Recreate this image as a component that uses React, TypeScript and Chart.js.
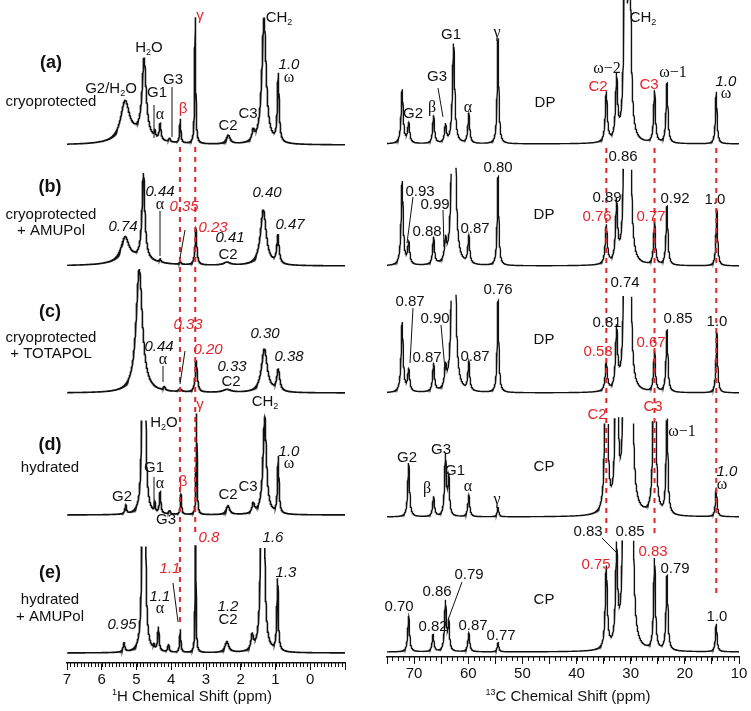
import React, { useEffect, useRef } from "react";
import { Chart, registerables } from "chart.js";
Chart.register(...registerables);

// ---------------- data (peak lists: [ppm, height, fwhm]) ----------------
type Peak = [number, number, number];

const H_TICK_LABELS = [7, 6, 5, 4, 3, 2, 1, 0];
const C_TICK_LABELS = [70, 60, 50, 40, 30, 20, 10];
const SPECTRUM_NAMES = ["(a)", "(b)", "(c)", "(d)", "(e)"];

const H_PEAKS_A: Peak[] = [
  [5.33, 38, 0.3], [5.0, 8, 1.0], [4.78, 78, 0.14], [4.47, 6, 0.04], [4.32, 16, 0.06],
  [4.05, 4, 0.05], [3.74, 24, 0.04], [3.31, 128, 0.035], [2.36, 9, 0.13], [1.64, 10, 0.08],
  [1.33, 126, 0.15], [0.92, 68, 0.06],
];
const H_PEAKS_B: Peak[] = [
  [5.33, 24, 0.28], [5.0, 6, 1.2], [4.8, 86, 0.1], [4.32, 3, 0.05], [3.74, 3, 0.05],
  [3.29, 36, 0.06], [2.4, 3, 0.25], [1.35, 56, 0.2], [0.93, 28, 0.08],
];
const H_PEAKS_C: Peak[] = [
  [4.92, 124, 0.22], [4.2, 4, 0.06], [3.75, 3, 0.1], [3.28, 32, 0.07], [2.4, 3, 0.3],
  [1.32, 44, 0.2], [0.92, 22, 0.1],
];
const H_PEAKS_D: Peak[] = [
  [5.31, 9, 0.05], [4.79, 1000, 0.04], [4.47, 9, 0.03], [4.32, 21, 0.05], [4.05, 4, 0.05],
  [3.72, 20, 0.04], [3.27, 103, 0.03], [2.37, 9, 0.12], [1.64, 10, 0.08], [1.31, 98, 0.12],
  [0.92, 57, 0.05],
];
const H_PEAKS_E: Peak[] = [
  [5.36, 9, 0.06], [4.79, 1000, 0.04], [4.5, 4, 0.04], [4.37, 24, 0.05], [4.08, 8, 0.05],
  [3.74, 23, 0.04], [3.3, 115, 0.03], [2.4, 11, 0.13], [1.67, 15, 0.08], [1.37, 550, 0.06],
  [0.94, 72, 0.05],
];

const C_PEAKS_A: Peak[] = [
  [72.2, 54, 0.45], [71.0, 20, 0.45], [66.4, 28, 0.4], [64.2, 18, 0.4], [62.7, 100, 0.5],
  [59.9, 30, 0.4], [54.5, 104, 0.35], [34.5, 50, 0.45], [32.6, 62, 0.45], [31.0, 300, 0.45],
  [30.2, 240, 0.5], [25.6, 52, 0.4], [23.3, 60, 0.4], [14.2, 52, 0.35],
];
const C_PEAKS_B: Peak[] = [
  [72.2, 84, 0.45], [71.0, 22, 0.45], [66.4, 27, 0.4], [64.2, 20, 0.4], [62.7, 400, 0.5],
  [59.9, 28, 0.4], [54.5, 89, 0.35], [34.5, 39, 0.45], [32.6, 59, 0.45], [31.0, 300, 0.45],
  [30.2, 240, 0.5], [25.6, 43, 0.4], [23.3, 59, 0.4], [14.1, 57, 0.35],
];
const C_PEAKS_C: Peak[] = [
  [72.2, 70, 0.45], [71.0, 22, 0.45], [66.4, 28, 0.4], [64.2, 20, 0.4], [62.7, 400, 0.5],
  [59.9, 29, 0.4], [54.5, 92, 0.35], [34.5, 29, 0.45], [32.6, 60, 0.45], [31.0, 300, 0.45],
  [30.2, 240, 0.5], [25.6, 41, 0.4], [23.3, 62, 0.4], [14.1, 61, 0.35],
];
const C_PEAKS_D: Peak[] = [
  [71.0, 54, 0.4], [66.4, 20, 0.4], [64.2, 61, 0.4], [63.6, 36, 0.35], [59.9, 22, 0.4],
  [54.5, 9, 0.35], [34.5, 300, 0.4], [32.6, 300, 0.4], [31.0, 400, 0.5], [30.0, 400, 0.5],
  [25.6, 300, 0.4], [23.3, 99, 0.4], [14.2, 29, 0.35],
];
const C_PEAKS_E: Peak[] = [
  [71.0, 36, 0.4], [66.5, 17, 0.4], [64.2, 50, 0.4], [63.6, 27, 0.35], [59.9, 19, 0.4],
  [54.5, 9, 0.35], [34.5, 82, 0.45], [32.6, 95, 0.45], [31.1, 400, 0.5], [29.9, 400, 0.5],
  [25.6, 91, 0.4], [23.3, 75, 0.4], [14.2, 28, 0.35],
];

const H_SPECTRA = [H_PEAKS_A, H_PEAKS_B, H_PEAKS_C, H_PEAKS_D, H_PEAKS_E];
const C_SPECTRA = [C_PEAKS_A, C_PEAKS_B, C_PEAKS_C, C_PEAKS_D, C_PEAKS_E];

// ---------------- layout ----------------
const W = 751;
const H = 711;
const LEFT_W = 375;
const RIGHT_X = 375;
const RIGHT_W = 376;
const H_AXIS_Y = 663;
const C_AXIS_Y = 657;
const H_BASELINES = [145, 266, 393, 515, 653];
const C_BASELINES = [144, 266, 393, 517, 652];
const H_CLIPS: (number | null)[] = [null, null, null, 106, 110];
const C_CLIPS: (number | null)[] = [null, 99, 100, 101, 114];

const RED = "#e3242b";
const INK = "#111";
const SANS = '"Liberation Sans", Arial, sans-serif';
const SERIF = '"Liberation Serif", "Times New Roman", serif';

type Lbl = { x: number; y: number; t: string; c?: string; f?: "s" | "i" | "b" | "g"; size?: number };
type Seg = [number, number, number, number];
type Dash = { ppm: number; y1: number; y2: number };

const LEFT_LABELS: Lbl[] = [
  { x: 51, y: 63, t: "(a)", f: "b", size: 18 },
  { x: 51, y: 102, t: "cryoprotected" },
  { x: 50, y: 187, t: "(b)", f: "b", size: 18 },
  { x: 51, y: 215, t: "cryoprotected" },
  { x: 51, y: 231, t: "+ AMUPol" },
  { x: 50, y: 312, t: "(c)", f: "b", size: 18 },
  { x: 51, y: 338, t: "cryoprotected" },
  { x: 51, y: 354, t: "+ TOTAPOL" },
  { x: 50, y: 445, t: "(d)", f: "b", size: 18 },
  { x: 50, y: 468, t: "hydrated" },
  { x: 50, y: 573, t: "(e)", f: "b", size: 18 },
  { x: 50, y: 600, t: "hydrated" },
  { x: 50, y: 617, t: "+ AMUPol" },
  // (a)
  { x: 111, y: 89, t: "G2/H_2O" },
  { x: 149, y: 48, t: "H_2O" },
  { x: 157, y: 93, t: "G1" },
  { x: 160, y: 115, t: "α", f: "g" },
  { x: 173, y: 80, t: "G3" },
  { x: 183, y: 109, t: "β", c: RED },
  { x: 200, y: 16, t: "γ", c: RED },
  { x: 228, y: 126, t: "C2" },
  { x: 248, y: 114, t: "C3" },
  { x: 279, y: 18, t: "CH_2" },
  { x: 289, y: 65, t: "1.0", f: "i" },
  { x: 289, y: 78, t: "ω", f: "g" },
  // (b)
  { x: 123, y: 227, t: "0.74", f: "i" },
  { x: 160, y: 192, t: "0.44", f: "i" },
  { x: 160, y: 205, t: "α", f: "g" },
  { x: 184, y: 207, t: "0.35", f: "i", c: RED },
  { x: 213, y: 228, t: "0.23", f: "i", c: RED },
  { x: 230, y: 238, t: "0.41", f: "i" },
  { x: 228, y: 255, t: "C2" },
  { x: 267, y: 193, t: "0.40", f: "i" },
  { x: 290, y: 225, t: "0.47", f: "i" },
  // (c)
  { x: 188, y: 325, t: "0.33", f: "i", c: RED },
  { x: 159, y: 347, t: "0.44", f: "i" },
  { x: 163, y: 360, t: "α", f: "g" },
  { x: 208, y: 350, t: "0.20", f: "i", c: RED },
  { x: 232, y: 367, t: "0.33", f: "i" },
  { x: 231, y: 382, t: "C2" },
  { x: 265, y: 334, t: "0.30", f: "i" },
  { x: 289, y: 357, t: "0.38", f: "i" },
  // (d)
  { x: 164, y: 423, t: "H_2O" },
  { x: 200, y: 405, t: "γ", c: RED },
  { x: 265, y: 402, t: "CH_2" },
  { x: 154, y: 468, t: "G1" },
  { x: 160, y: 484, t: "α", f: "g" },
  { x: 183, y: 482, t: "β", c: RED },
  { x: 122, y: 497, t: "G2" },
  { x: 166, y: 520, t: "G3" },
  { x: 228, y: 495, t: "C2" },
  { x: 248, y: 487, t: "C3" },
  { x: 289, y: 452, t: "1.0", f: "i" },
  { x: 289, y: 464, t: "ω", f: "g" },
  // (e)
  { x: 209, y: 538, t: "0.8", f: "i", c: RED },
  { x: 273, y: 538, t: "1.6", f: "i" },
  { x: 286, y: 573, t: "1.3", f: "i" },
  { x: 170, y: 569, t: "1.1", f: "i", c: RED },
  { x: 160, y: 597, t: "1.1", f: "i" },
  { x: 160, y: 609, t: "α", f: "g" },
  { x: 122, y: 625, t: "0.95", f: "i" },
  { x: 228, y: 607, t: "1.2", f: "i" },
  { x: 228, y: 620, t: "C2" },
  // axis title
  { x: 192, y: 697, t: "^1H Chemical Shift (ppm)" },
];

const LEFT_LINES: Seg[] = [
  [154, 105, 154, 138], [172, 87, 172, 137],
  [160, 211, 160, 256], [185, 230, 180, 258],
  [163, 366, 163, 382], [185, 351, 180, 384],
  [154, 477, 154, 507],
  [173, 583, 178, 622],
];

const LEFT_DASHES: Dash[] = [
  { ppm: 3.75, y1: 147, y2: 622 },
  { ppm: 3.31, y1: 147, y2: 537 },
];

const RIGHT_LABELS: Lbl[] = [
  // (a)
  { x: 413, y: 114, t: "G2" },
  { x: 432, y: 108, t: "β", f: "g" },
  { x: 437, y: 77, t: "G3" },
  { x: 451, y: 35, t: "G1" },
  { x: 468, y: 108, t: "α", f: "g" },
  { x: 497, y: 33, t: "γ", f: "g" },
  { x: 545, y: 103, t: "DP" },
  { x: 607, y: 69, t: "ω−2", f: "g" },
  { x: 598, y: 87, t: "C2", c: RED },
  { x: 643, y: 18, t: "CH_2" },
  { x: 649, y: 85, t: "C3", c: RED },
  { x: 673, y: 73, t: "ω−1", f: "g" },
  { x: 726, y: 82, t: "1.0", f: "i" },
  { x: 726, y: 94, t: "ω", f: "g" },
  // (b)
  { x: 623, y: 157, t: "0.86" },
  { x: 498, y: 168, t: "0.80" },
  { x: 420, y: 192, t: "0.93" },
  { x: 435, y: 205, t: "0.99" },
  { x: 427, y: 232, t: "0.88" },
  { x: 475, y: 229, t: "0.87" },
  { x: 544, y: 215, t: "DP" },
  { x: 607, y: 198, t: "0.89" },
  { x: 597, y: 217, t: "0.76", c: RED },
  { x: 651, y: 217, t: "0.77", c: RED },
  { x: 675, y: 199, t: "0.92" },
  { x: 715, y: 200, t: "1.0" },
  // (c)
  { x: 625, y: 283, t: "0.74" },
  { x: 498, y: 290, t: "0.76" },
  { x: 410, y: 302, t: "0.87" },
  { x: 435, y: 319, t: "0.90" },
  { x: 427, y: 358, t: "0.87" },
  { x: 475, y: 357, t: "0.87" },
  { x: 544, y: 340, t: "DP" },
  { x: 607, y: 323, t: "0.81" },
  { x: 598, y: 352, t: "0.53", c: RED },
  { x: 651, y: 343, t: "0.67", c: RED },
  { x: 678, y: 319, t: "0.85" },
  { x: 717, y: 322, t: "1.0" },
  // (d)
  { x: 597, y: 415, t: "C2", c: RED },
  { x: 653, y: 407, t: "C3", c: RED },
  { x: 682, y: 432, t: "ω−1", f: "g" },
  { x: 407, y: 458, t: "G2" },
  { x: 441, y: 450, t: "G3" },
  { x: 455, y: 471, t: "G1" },
  { x: 427, y: 489, t: "β", f: "g" },
  { x: 468, y: 487, t: "α", f: "g" },
  { x: 497, y: 500, t: "γ", f: "g" },
  { x: 544, y: 467, t: "CP" },
  { x: 727, y: 472, t: "1.0", f: "i" },
  { x: 722, y: 485, t: "ω", f: "g" },
  // (e)
  { x: 588, y: 532, t: "0.83" },
  { x: 630, y: 532, t: "0.85" },
  { x: 596, y: 565, t: "0.75", c: RED },
  { x: 653, y: 552, t: "0.83", c: RED },
  { x: 675, y: 569, t: "0.79" },
  { x: 469, y: 575, t: "0.79" },
  { x: 437, y: 592, t: "0.86" },
  { x: 399, y: 607, t: "0.70" },
  { x: 433, y: 627, t: "0.82" },
  { x: 473, y: 626, t: "0.87" },
  { x: 501, y: 636, t: "0.77" },
  { x: 544, y: 600, t: "CP" },
  { x: 717, y: 617, t: "1.0" },
  // axis title
  { x: 568, y: 697, t: "^1^3C Chemical Shift (ppm)" },
];

const RIGHT_LINES: Seg[] = [
  [438, 88, 443, 117],
  [413, 197, 407, 243], [443, 210, 444, 247],
  [413, 308, 410, 363], [441, 325, 445, 370],
  [602, 538, 617, 553], [462, 582, 448, 620],
];

const RIGHT_DASHES: Dash[] = [
  { ppm: 34.5, y1: 148, y2: 537 },
  { ppm: 25.6, y1: 148, y2: 535 },
  { ppm: 14.2, y1: 148, y2: 594 },
];

// ---------------- helpers ----------------
function lineshape(peaks: Peak[], x: number) {
  let y = 0;
  for (const [p, h, w] of peaks) {
    const d = (x - p) / (w / 2);
    y += h / (1 + d * d);
  }
  return y;
}

function buildDatasets(spectra: Peak[][], axisY: number, baselines: number[], clips: (number | null)[], xmin: number, xmax: number, step: number, width: number) {
  return spectra.map((peaks, i) => {
    const offset = axisY - baselines[i];
    const clip = clips[i];
    const data: { x: number; y: number | null }[] = [];
    const n = Math.round((xmax - xmin) / step);
    for (let k = 0; k <= n; k++) {
      const x = xmin + k * step;
      const y = lineshape(peaks, x);
      data.push({ x, y: clip != null && y > clip ? null : offset + y });
    }
    return {
      label: SPECTRUM_NAMES[i],
      data,
      borderColor: INK,
      borderWidth: width,
      pointRadius: 0,
      tension: 0,
      spanGaps: false,
      fill: false,
    };
  });
}

function fontFor(l: Lbl, size: number) {
  switch (l.f) {
    case "b": return `bold ${size}px ${SANS}`;
    case "i": return `italic ${size}px ${SANS}`;
    case "g": return `${size + 1}px ${SERIF}`;
    default: return `${size}px ${SANS}`;
  }
}

function drawRich(ctx: CanvasRenderingContext2D, l: Lbl, dx: number) {
  const size = l.size ?? 15;
  const segs: { s: string; m: "n" | "sub" | "sup" }[] = [];
  const t = l.t;
  for (let i = 0; i < t.length; i++) {
    const ch = t[i];
    if ((ch === "_" || ch === "^") && i + 1 < t.length) {
      segs.push({ s: t[i + 1], m: ch === "_" ? "sub" : "sup" });
      i++;
    } else {
      const last = segs[segs.length - 1];
      if (last && last.m === "n") last.s += ch;
      else segs.push({ s: ch, m: "n" });
    }
  }
  const small = Math.round(size * 0.62);
  let total = 0;
  const widths = segs.map((sg) => {
    ctx.font = fontFor(l, sg.m === "n" ? size : small);
    const w = ctx.measureText(sg.s).width;
    total += w;
    return w;
  });
  let x = l.x - dx - total / 2;
  ctx.fillStyle = l.c ?? INK;
  ctx.textBaseline = "middle";
  ctx.textAlign = "left";
  segs.forEach((sg, i) => {
    ctx.font = fontFor(l, sg.m === "n" ? size : small);
    let y = l.y;
    if (sg.m === "sub") y += size * 0.32;
    if (sg.m === "sup") y -= size * 0.32;
    ctx.fillText(sg.s, x, y);
    x += widths[i];
  });
}

function makeOverlay(labels: Lbl[], lines: Seg[], dashes: Dash[], dx: number, minorStep: number, minorLen: number) {
  return {
    id: "overlay",
    afterDraw(chart: any) {
      const ctx: CanvasRenderingContext2D = chart.ctx;
      const xs = chart.scales.x;
      const area = chart.chartArea;
      ctx.save();
      // minor ticks
      ctx.strokeStyle = INK;
      ctx.lineWidth = 1;
      const lo = Math.min(xs.min, xs.max);
      const hi = Math.max(xs.min, xs.max);
      const n = Math.round((hi - lo) / minorStep);
      ctx.beginPath();
      for (let k = 0; k <= n; k++) {
        const v = lo + k * minorStep;
        const px = Math.round(xs.getPixelForValue(v)) + 0.5;
        ctx.moveTo(px, area.bottom);
        ctx.lineTo(px, area.bottom + minorLen);
      }
      ctx.stroke();
      // red dashed guide lines
      ctx.strokeStyle = RED;
      ctx.lineWidth = 2;
      ctx.setLineDash([5, 5]);
      for (const d of dashes) {
        const px = xs.getPixelForValue(d.ppm);
        ctx.beginPath();
        ctx.moveTo(px, d.y1);
        ctx.lineTo(px, d.y2);
        ctx.stroke();
      }
      ctx.setLineDash([]);
      // leader lines
      ctx.strokeStyle = INK;
      ctx.lineWidth = 1;
      for (const [x1, y1, x2, y2] of lines) {
        ctx.beginPath();
        ctx.moveTo(x1 - dx, y1);
        ctx.lineTo(x2 - dx, y2);
        ctx.stroke();
      }
      for (const l of labels) drawRich(ctx, l, dx);
      ctx.restore();
    },
  };
}

function makeConfig(opts: {
  datasets: any[]; min: number; max: number; step: number; labels: number[];
  padLeft: number; padRight: number; axisY: number; overlay: any;
}) {
  return {
    type: "line" as const,
    data: { datasets: opts.datasets },
    options: {
      animation: false as const,
      responsive: false,
      maintainAspectRatio: false,
      devicePixelRatio: 1,
      parsing: false as const,
      normalized: true,
      layout: { padding: { left: opts.padLeft, right: opts.padRight, top: 0, bottom: 0 } },
      plugins: { legend: { display: false }, tooltip: { enabled: false } },
      events: [],
      scales: {
        x: {
          type: "linear" as const,
          reverse: true,
          min: opts.min,
          max: opts.max,
          afterFit: (s: any) => { s.height = H - opts.axisY; },
          ticks: {
            stepSize: opts.step,
            autoSkip: false,
            maxRotation: 0,
            padding: 1,
            color: INK,
            font: { family: SANS, size: 15 },
            callback: (v: any) => (opts.labels.includes(Number(v)) ? String(v) : ""),
          },
          grid: { drawOnChartArea: false, drawTicks: true, tickLength: 7, color: INK, lineWidth: 1 },
          border: { display: true, color: INK, width: 1.5 },
        },
        y: { display: false, min: 0, max: opts.axisY },
      },
    },
    plugins: [opts.overlay],
  };
}

export default function App() {
  const leftRef = useRef<HTMLCanvasElement>(null);
  const rightRef = useRef<HTMLCanvasElement>(null);

  useEffect(() => {
    const left = new Chart(leftRef.current!, makeConfig({
      datasets: buildDatasets(H_SPECTRA, H_AXIS_Y, H_BASELINES, H_CLIPS, -1, 7, 0.004, 1.6),
      min: -1, max: 7, step: 1, labels: H_TICK_LABELS,
      padLeft: 67, padRight: LEFT_W - 345, axisY: H_AXIS_Y,
      overlay: makeOverlay(LEFT_LABELS, LEFT_LINES, LEFT_DASHES, 0, 0.1, 4),
    }) as any);
    const right = new Chart(rightRef.current!, makeConfig({
      datasets: buildDatasets(C_SPECTRA, C_AXIS_Y, C_BASELINES, C_CLIPS, 10, 75, 0.03, 1.4),
      min: 10, max: 75, step: 5, labels: C_TICK_LABELS,
      padLeft: 387 - RIGHT_X, padRight: RIGHT_X + RIGHT_W - 739, axisY: C_AXIS_Y,
      overlay: makeOverlay(RIGHT_LABELS, RIGHT_LINES, RIGHT_DASHES, RIGHT_X, 1, 4),
    }) as any);
    return () => { left.destroy(); right.destroy(); };
  }, []);

  return (
    <div style={{ position: "fixed", left: 0, top: 0, width: W, height: H, background: "#fff" }}>
      <canvas ref={leftRef} width={LEFT_W} height={H} style={{ position: "absolute", left: 0, top: 0, width: LEFT_W, height: H }} />
      <canvas ref={rightRef} width={RIGHT_W} height={H} style={{ position: "absolute", left: RIGHT_X, top: 0, width: RIGHT_W, height: H }} />
    </div>
  );
}
